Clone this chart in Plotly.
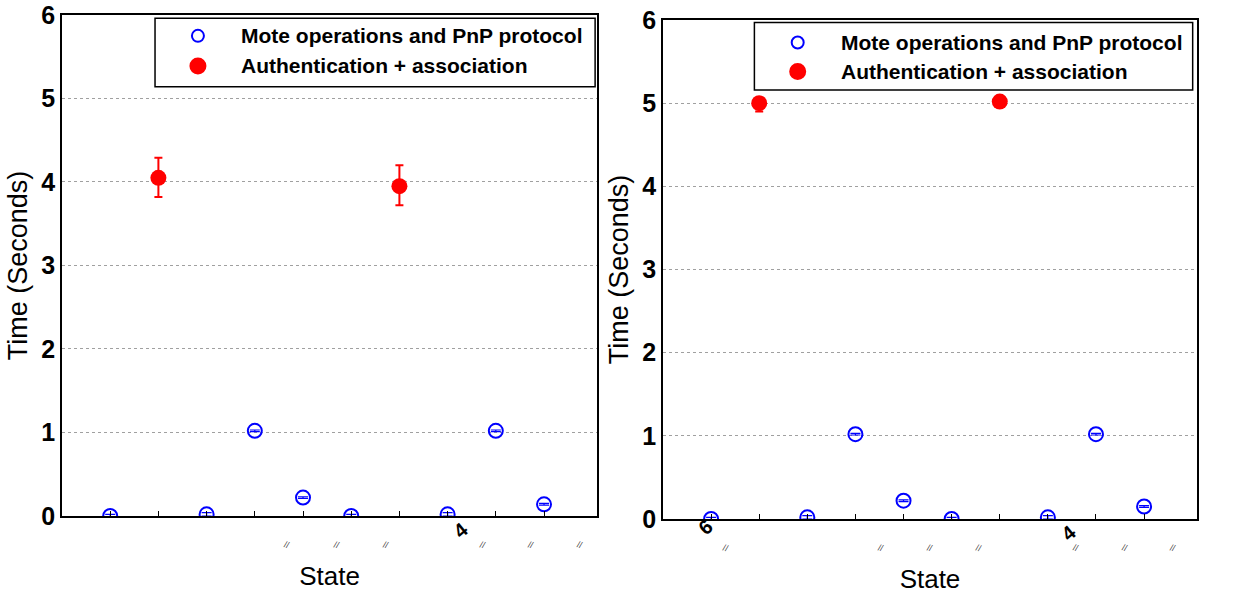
import plotly.graph_objects as go

# ---- data ----
states = [1, 2, 3, 4, 5, 6, 7, 8, 9, 10]

left_mote_x = [1, 3, 4, 5, 6, 8, 9, 10]
left_mote_y = [0.0, 0.02, 1.02, 0.22, 0.0, 0.02, 1.02, 0.14]
left_mote_err = [0.02, 0.02, 0.01, 0.01, 0.02, 0.02, 0.01, 0.01]
left_auth_x = [2, 7]
left_auth_y = [4.05, 3.95]
left_auth_err_plus = [0.24, 0.25]
left_auth_err_minus = [0.23, 0.23]

right_mote_x = [1, 3, 4, 5, 6, 8, 9, 10]
right_mote_y = [0.0, 0.02, 1.02, 0.22, 0.0, 0.02, 1.02, 0.15]
right_mote_err = [0.02, 0.02, 0.01, 0.01, 0.02, 0.02, 0.01, 0.01]
right_auth_x = [2, 7]
right_auth_y = [5.0, 5.02]
right_auth_err_plus = [0.0, 0.0]
right_auth_err_minus = [0.1, 0.02]

y_ticks = [0, 1, 2, 3, 4, 5, 6]
series_names = ["Mote operations and PnP protocol", "Authentication + association"]

# garbled tick-label artifacts from the original image
left_junk_x = [4.67, 5.70, 6.72, 8.73, 9.73, 10.75, 11.74]
right_junk_x = [1.30, 4.53, 5.55, 6.56, 8.59, 9.61, 10.60, 11.61]
left_digits = [("4", 8.28, -0.022)]
right_digits = [("6", 0.89, -0.016), ("4", 8.43, -0.028)]

BLUE = "#0000ff"
RED = "#ff0000"
FONT = "Liberation Sans, Arial, sans-serif"

fig = go.Figure()


def add_panel(xa, ya, mx, my, merr, ax, ay, ap, am):
    fig.add_trace(go.Scatter(
        x=mx, y=my, mode="markers", name=series_names[0],
        marker=dict(symbol="circle-open", size=14, color=BLUE, line=dict(width=2, color=BLUE)),
        error_y=dict(type="data", array=merr, color=BLUE, thickness=1.2, width=5),
        xaxis=xa, yaxis=ya, showlegend=False))
    fig.add_trace(go.Scatter(
        x=ax, y=ay, mode="markers", name=series_names[1],
        marker=dict(symbol="circle", size=16, color=RED),
        error_y=dict(type="data", symmetric=False, array=ap, arrayminus=am,
                     color=RED, thickness=2, width=4),
        xaxis=xa, yaxis=ya, showlegend=False))


add_panel("x", "y", left_mote_x, left_mote_y, left_mote_err, left_auth_x, left_auth_y,
          left_auth_err_plus, left_auth_err_minus)
add_panel("x2", "y2", right_mote_x, right_mote_y, right_mote_err, right_auth_x, right_auth_y,
          right_auth_err_plus, right_auth_err_minus)


def xaxis_cfg(domain, anchor):
    return dict(domain=domain, anchor=anchor, range=[0, 11.1], showgrid=False, zeroline=False,
                showline=True, linecolor="black", linewidth=1.5, mirror=True,
                ticks="inside", ticklen=5, tickcolor="black", tickvals=states,
                showticklabels=False, automargin=False,
                title=dict(text="State", font=dict(family=FONT, size=26, color="black"),
                           standoff=50))


def yaxis_cfg(domain, anchor):
    return dict(domain=domain, anchor=anchor, range=[0, 6], tickvals=y_ticks,
                showgrid=True, gridcolor="#a0a0a0", griddash="dot", gridwidth=1,
                zeroline=False, showline=True, linecolor="black", linewidth=1.5, mirror=True,
                ticks="", automargin=False, ticklabeloverflow="allow",
                tickfont=dict(family=FONT, size=25, color="black", weight="bold"),
                title=dict(text="Time (Seconds)", font=dict(family=FONT, size=27, color="black"),
                           standoff=6))


fig.update_layout(
    width=1233, height=598,
    margin=dict(l=62, r=36, t=15, b=79),
    paper_bgcolor="white", plot_bgcolor="white",
    xaxis=xaxis_cfg([0, 0.4714], "y"),
    yaxis=yaxis_cfg([0.006, 1.0], "x"),
    xaxis2=xaxis_cfg([0.5295, 1.0], "y2"),
    yaxis2=yaxis_cfg([0.0, 0.990], "x2"),
    showlegend=False,
)

# ---- legends drawn in each panel ----
legend_specs = [
    # xref, yref, box x0, x1, y0, y1, marker x, row ys, text x
    ("x", "y", 1.93, 11.06, 5.14, 5.96, 2.82, [5.75, 5.39], 3.67),
    ("x2", "y2", 1.90, 11.01, 5.16, 5.97, 2.80, [5.73, 5.38], 3.66),
]
ann = []
for xr, yr, bx0, bx1, by0, by1, mx, rows, tx in legend_specs:
    fig.add_shape(type="rect", xref=xr, yref=yr, x0=bx0, x1=bx1, y0=by0, y1=by1,
                  line=dict(color="black", width=1.5), fillcolor="white", layer="below")
    fig.add_trace(go.Scatter(
        x=[mx, mx], y=rows, mode="markers", xaxis=xr, yaxis=yr, showlegend=False,
        hoverinfo="skip",
        marker=dict(symbol=["circle-open", "circle"], size=[12, 15], color=[BLUE, RED],
                    opacity=1, line=dict(width=2, color=[BLUE, RED]))))
    for name, ry in zip(series_names, rows):
        ann.append(dict(x=tx, y=ry, xref=xr, yref=yr, xanchor="left", yanchor="middle",
                        text=name, showarrow=False,
                        font=dict(family=FONT, size=21, color="black", weight="bold")))

for xv in left_junk_x:
    ann.append(dict(x=xv, y=-0.052, xref="x", yref="paper", yanchor="middle", text="//",
                    showarrow=False, font=dict(family=FONT, size=9, color="#444444"),
                    textangle=15))
for xv in right_junk_x:
    ann.append(dict(x=xv, y=-0.058, xref="x2", yref="paper", yanchor="middle", text="//",
                    showarrow=False, font=dict(family=FONT, size=9, color="#444444"),
                    textangle=15))
for t, xv, yv in left_digits:
    ann.append(dict(x=xv, y=yv, xref="x", yref="paper", yanchor="middle", text=t,
                    showarrow=False,
                    font=dict(family=FONT, size=20, color="black", weight="bold"),
                    textangle=-40))
for t, xv, yv in right_digits:
    ann.append(dict(x=xv, y=yv, xref="x2", yref="paper", yanchor="middle", text=t,
                    showarrow=False,
                    font=dict(family=FONT, size=20, color="black", weight="bold"),
                    textangle=-40))
fig.update_layout(annotations=ann)

# remove the browser's default page margin so the figure sits at the window origin
fig.write_html("out.html", config={"displayModeBar": False},
               post_script="document.body.style.margin='0px';")
